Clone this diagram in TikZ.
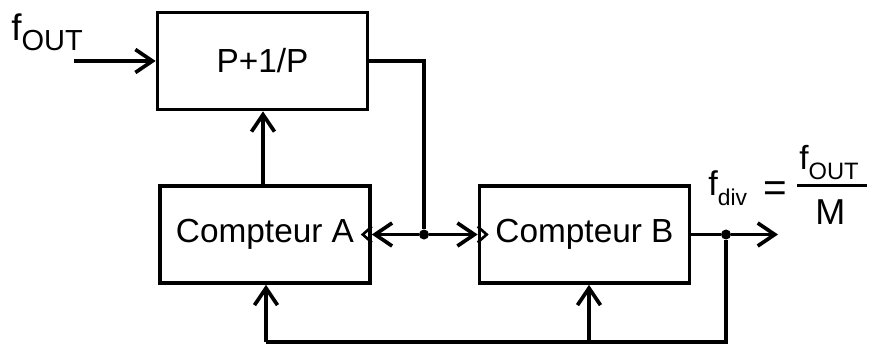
\documentclass[tikz,border=0pt]{standalone}
\usepackage{fontspec}
\setmainfont{Liberation Sans}
\usetikzlibrary{arrows.meta}
\newcommand{\boxwidth}{4.2cm}
\newcommand{\boxheight}{1.94cm}
\newcommand{\txt}[2]{{\fontsize{#1}{#1}\selectfont #2}}

\tikzset{
	bloc/.style={draw, line width=2.1pt, minimum width=\boxwidth, minimum height=\boxheight, inner sep=0pt, font=\fontsize{19}{20}\selectfont},
	fil/.style={line width=2.1pt},
	fleche/.style={fil, -{Straight Barb[length=3.4mm,width=4.6mm]}},
	noeud/.style={circle, fill, inner sep=0pt, minimum size=0.2cm},
	texte/.style={anchor=base west, inner sep=0pt}
}

\begin{document}
\begin{tikzpicture}[x=0.02cm, y=-0.02cm]
	\useasboundingbox (0,0) rectangle (869,345);

	\node[bloc] (pp) at (262.5,61) {P+1/P};
	\node[bloc] (ca) at (265,234.5) {Compteur A};
	\node[bloc] (cb) at (584.5,234.5) {Compteur B};

	\node[noeud] (j1) at (424,234.5) {};
	\node[noeud] (j2) at (726,234.5) {};

	\coordinate (in) at (74,61);
	\coordinate (out) at (778,234.5);
	\coordinate (retour) at (726,342);
	\coordinate (ra) at (266,342);
	\coordinate (rb) at (589,342);

	% entree et diviseur
	\draw[fleche] (in) -- (pp.west);
	\draw[fleche] (ca.north -| 263,0) -- (pp.south -| 263,0);
	\draw[fil] (pp.east) -| (j1);
	\draw[fleche] (j1) -- (ca.east);
	\draw[fleche] (j1) -- (cb.west);

	% sortie et retour
	\draw[fil] (cb.east) -- (j2);
	\draw[fleche] (j2) -- (out);
	\draw[fil] (j2) -- (retour) -- (ra);
	\draw[fleche] (ra) -- (ra |- ca.south);
	\draw[fleche] (rb) -- (rb |- cb.south);

	% entrees horloge
	\foreach \b/\d in {ca.east/-9, cb.west/9}
	{
		\draw[line width=1.5pt, line join=miter] ([shift={(0,-8)}]\b) -- ++(\d,8) -- ++(-\d,8);
	}

	\node[texte] (fout) at (11,40) {\txt{21}{f}\raisebox{-6.2pt}{\txt{16.5}{OUT}}};
	\node[texte] (fdiv) at (708,195) {\txt{19.5}{f}\raisebox{-5.7pt}{\txt{13}{div}}};
	\node[anchor=base, inner sep=0pt] (egal) at (775.5,201) {\txt{23}{=}};
	\node[texte] (num) at (799,169) {\txt{19}{f}\raisebox{-6pt}{\txt{13.5}{OUT}}};
	\node[texte] (den) at (815,224) {\txt{20.5}{M}};
	\draw[line width=1.3pt] (797,185.5) -- (867,185.5);

\end{tikzpicture}
\end{document}
